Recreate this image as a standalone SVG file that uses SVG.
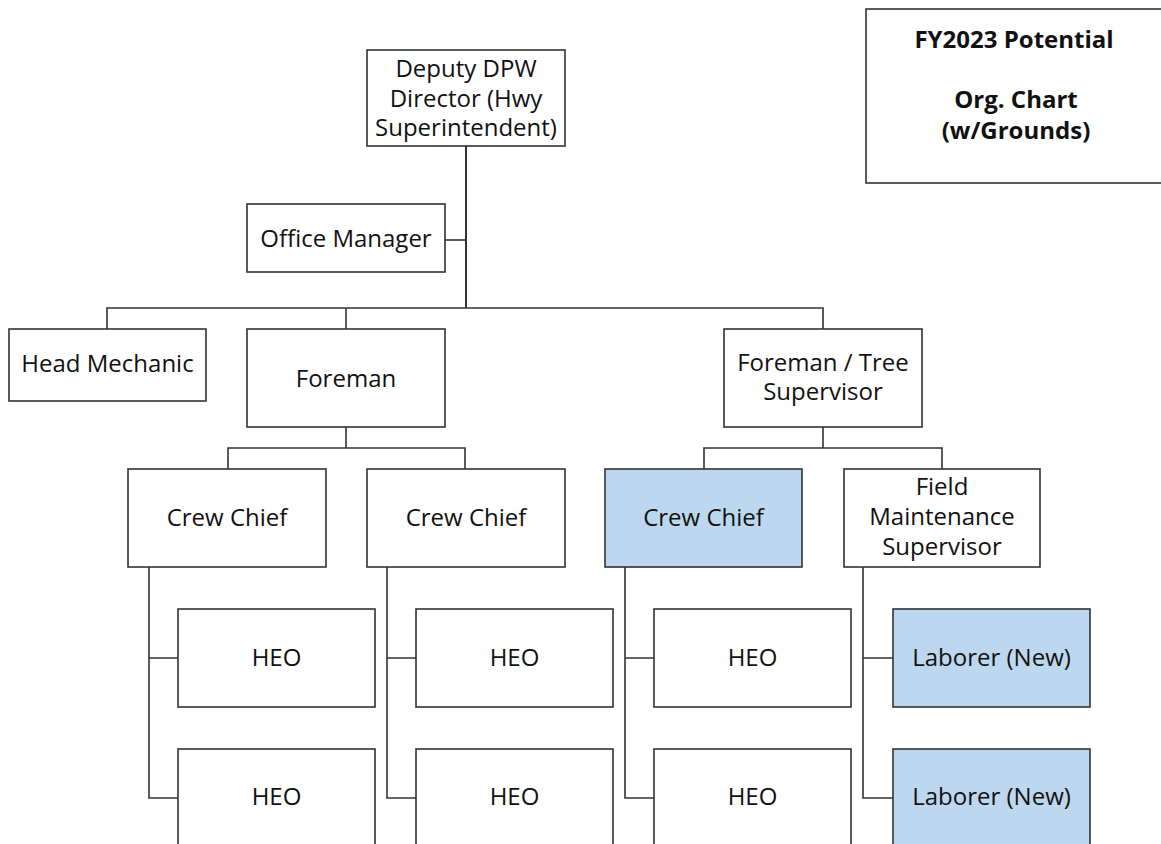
<svg xmlns="http://www.w3.org/2000/svg" width="1161" height="844" viewBox="0 0 1161 844">
<style>
  .box{fill:#ffffff;stroke:#333333;stroke-width:1.6}
  .blue{fill:#bdd7ee;stroke:#333333;stroke-width:1.6}
  .t{font-family:"Open Sans","Noto Sans","DejaVu Sans",sans-serif;font-size:24px;fill:#111111;text-anchor:middle}
  .tb{font-family:"Open Sans","Noto Sans","DejaVu Sans",sans-serif;font-size:24px;font-weight:bold;fill:#111111;text-anchor:middle}
  .c{fill:none;stroke:#333333;stroke-width:1.6}
</style>
<rect width="1161" height="844" fill="#ffffff"/>
<g id="connectors">
  <path class="c" d="M466 146 V308" style="stroke-width:2"/>
  <path class="c" d="M445 240 H466"/>
  <path class="c" d="M107 329 V308 H823 V329"/>
  <path class="c" d="M346 308 V329"/>
  <path class="c" d="M346 427 V448"/>
  <path class="c" d="M228 469 V448 H465 V469"/>
  <path class="c" d="M823 427 V448"/>
  <path class="c" d="M704 469 V448 H942 V469"/>
  <path class="c" d="M149 567 V798 H178 M149 658 H178"/>
  <path class="c" d="M387 567 V798 H416 M387 658 H416"/>
  <path class="c" d="M625 567 V798 H654 M625 658 H654"/>
  <path class="c" d="M863 567 V798 H893 M863 658 H893"/>
</g>
<g id="title">
  <rect class="box" x="866" y="9" width="310" height="174"/>
  <text class="tb" x="1014" y="48">FY2023 Potential</text>
  <text class="tb" x="1016" y="108">Org. Chart</text>
  <text class="tb" x="1016" y="139">(w/Grounds)</text>
</g>
<g id="deputy">
  <rect class="box" x="367" y="50" width="198" height="96"/>
  <text class="t" x="466" y="77">Deputy DPW</text>
  <text class="t" x="466" y="107">Director (Hwy</text>
  <text class="t" x="466" y="136">Superintendent)</text>
</g>
<g id="office-manager">
  <rect class="box" x="247" y="204" width="198" height="68"/>
  <text class="t" x="346" y="247">Office Manager</text>
</g>
<g id="head-mechanic">
  <rect class="box" x="9" y="329" width="197" height="72"/>
  <text class="t" x="107.5" y="372">Head Mechanic</text>
</g>
<g id="foreman">
  <rect class="box" x="247" y="329" width="198" height="98"/>
  <text class="t" x="346" y="387">Foreman</text>
</g>
<g id="foreman-tree">
  <rect class="box" x="724" y="329" width="198" height="98"/>
  <text class="t" x="823" y="371">Foreman / Tree</text>
  <text class="t" x="823" y="400">Supervisor</text>
</g>
<g id="crew-chief-1">
  <rect class="box" x="128" y="469" width="198" height="98"/>
  <text class="t" x="227" y="526">Crew Chief</text>
</g>
<g id="crew-chief-2">
  <rect class="box" x="367" y="469" width="198" height="98"/>
  <text class="t" x="466" y="526">Crew Chief</text>
</g>
<g id="crew-chief-3">
  <rect class="blue" x="605" y="469" width="197" height="98"/>
  <text class="t" x="703.5" y="526">Crew Chief</text>
</g>
<g id="field-maintenance">
  <rect class="box" x="844" y="469" width="196" height="98"/>
  <text class="t" x="942" y="495">Field</text>
  <text class="t" x="942" y="525">Maintenance</text>
  <text class="t" x="942" y="555">Supervisor</text>
</g>
<g id="heo-1a">
  <rect class="box" x="178" y="609" width="197" height="98"/>
  <text class="t" x="276.5" y="666">HEO</text>
</g>
<g id="heo-1b">
  <rect class="box" x="178" y="749" width="197" height="120"/>
  <text class="t" x="276.5" y="805">HEO</text>
</g>
<g id="heo-2a">
  <rect class="box" x="416" y="609" width="197" height="98"/>
  <text class="t" x="514.5" y="666">HEO</text>
</g>
<g id="heo-2b">
  <rect class="box" x="416" y="749" width="197" height="120"/>
  <text class="t" x="514.5" y="805">HEO</text>
</g>
<g id="heo-3a">
  <rect class="box" x="654" y="609" width="197" height="98"/>
  <text class="t" x="752.5" y="666">HEO</text>
</g>
<g id="heo-3b">
  <rect class="box" x="654" y="749" width="197" height="120"/>
  <text class="t" x="752.5" y="805">HEO</text>
</g>
<g id="laborer-a">
  <rect class="blue" x="893" y="609" width="197" height="98"/>
  <text class="t" x="991.5" y="666">Laborer (New)</text>
</g>
<g id="laborer-b">
  <rect class="blue" x="893" y="749" width="197" height="120"/>
  <text class="t" x="991.5" y="805">Laborer (New)</text>
</g>
</svg>
